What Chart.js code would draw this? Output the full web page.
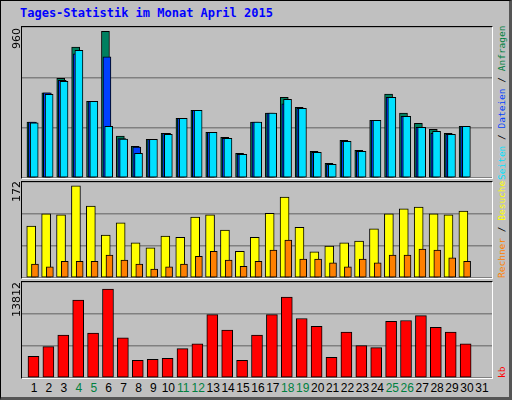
<!DOCTYPE html>
<html><head><meta charset="utf-8">
<script src="https://cdn.jsdelivr.net/npm/chart.js@4/dist/chart.umd.min.js"></script>
<style>
body{margin:0;background:#fff}
#f{position:absolute;left:0;top:0;width:508px;height:396px;background:#c0c0c0;border:1px solid #000;border-right:3px solid #555;border-bottom:3px solid #555}
.p{position:absolute;left:20px;width:470px;border-top:1px solid #000;border-left:1px solid #000;border-right:1px solid #fff;border-bottom:1px solid #fff;background:#c0c0c0}
.p canvas{position:absolute;left:0;top:0}
.t{position:absolute;font-family:"Liberation Sans";font-size:12px;white-space:nowrap}
.v{position:absolute;font-family:"DejaVu Sans Mono";font-size:9.5px;white-space:nowrap;transform:rotate(-90deg);transform-origin:left top}
</style></head><body>
<div id="f">
<div class="t" style="left:19px;top:5px;font-family:'DejaVu Sans Mono';font-weight:bold;font-size:12px;color:#0000ff">Tages-Statistik im Monat April 2015</div>
<div class="p" id="p1" style="top:25px;height:151px"><canvas id="c1"></canvas></div>
<div class="p" id="p2" style="top:180px;height:96px"><canvas id="c2"></canvas></div>
<div class="p" id="p3" style="top:280px;height:96px"><canvas id="c3"></canvas></div>
<div class="v" style="left:9px;top:48px;font-family:'DejaVu Sans';font-size:11px">960</div>
<div class="v" style="left:9px;top:201px;font-family:'DejaVu Sans';font-size:11px">172</div>
<div class="v" style="left:9px;top:316px;font-family:'DejaVu Sans';font-size:11px">13812</div>
<div class="v" style="left:495px;top:179px"><span style="color:#00e0ff">Seiten</span> / <span style="color:#0040ff">Dateien</span> / <span style="color:#008040">Anfragen</span></div>
<div class="v" style="left:495px;top:277px"><span style="color:#ff8000">Rechner</span> / <span style="color:#ffff00">Besuche</span></div>
<div class="v" style="left:495px;top:377px;color:#ff0000">kb</div>
<div id="days"></div>
</div>
<script>
const days=[1,2,3,4,5,6,7,8,9,10,11,12,13,14,15,16,17,18,19,20,21,22,23,24,25,26,27,28,29,30,31];
const weekend=[4,5,11,12,18,19,25,26];
const hits=[356,541,634,833,488,933,267,201,246,284,379,430,290,259,157,356,413,513,449,170,93,240,176,367,534,413,348,310,284,329];
const files=[356,541,621,789,488,770,250,197,246,284,379,430,290,252,151,356,413,471,443,163,87,233,170,367,513,392,322,284,278,329];
const pages=[350,532,615,812,488,329,248,157,246,278,379,430,290,252,151,356,413,500,443,163,87,233,170,367,513,392,322,297,278,329];
const visits=[93,115,113,165,129,77,99,63,54,75,73,109,113,86,48,73,116,145,91,47,57,63,66,88,115,124,127,115,113,120];
const sites=[25,20,30,30,30,41,32,25,16,20,25,39,48,32,21,30,50,68,34,34,27,20,34,27,41,41,52,50,36,30];
const kb=[3116,4511,6185,11207,6464,12788,5766,2558,2697,2837,4232,4929,9114,6882,2558,6185,9114,11625,8556,7440,2976,6603,4650,4371,8138,8277,8975,7301,6603,4929];
const maxTop=960,maxMid=172,maxKb=13812;

const dd=document.getElementById('days');
days.forEach(d=>{const e=document.createElement('div');e.className='t';e.textContent=d;
 e.style.left=(33+(d-1)*14.93-20)+'px';e.style.width='40px';e.style.textAlign='center';e.style.top='380px';
 e.style.color=weekend.includes(d)?'#008040':'#000';dd.appendChild(e);});

function ds(vals,off,color,w){return{data:vals.map((v,i)=>({x:i+1+off,y:v})),backgroundColor:color,borderColor:'#000',borderWidth:1,borderSkipped:false,barThickness:w,grouped:false};}
function mk(id,max,sets){
 const c=document.getElementById(id);
 new Chart(c,{type:'bar',data:{datasets:sets},options:{responsive:false,animation:false,events:[],
  layout:{padding:0},plugins:{legend:{display:false},tooltip:{enabled:false}},
  scales:{x:{type:'linear',offset:false,min:0.13,max:31.67,grid:{display:false},ticks:{display:false},border:{display:false},afterFit:s=>{s.height=0}},
   y:{min:0,max:max,ticks:{display:false,stepSize:max/3},grid:{color:'#808080',drawTicks:false,lineWidth:1.5},border:{display:false},afterFit:s=>{s.width=0}}}}});
}
[['c1',151],['c2',96],['c3',96]].forEach(([id,h])=>{const c=document.getElementById(id);c.width=470;c.height=h;c.style.width='470px';c.style.height=h+'px';});
mk('c1',maxTop,[ds(pages,-0.05,'#00e0ff',8),ds(files,-0.17,'#0040ff',8),ds(hits,-0.27,'#008060',8)]);
mk('c2',maxMid,[ds(sites,0,'#ff8000',7),ds(visits,-0.25,'#ffff00',9)]);
mk('c3',maxKb,[ds(kb,-0.1,'#ff0000',11)]);
</script>
</body></html>
